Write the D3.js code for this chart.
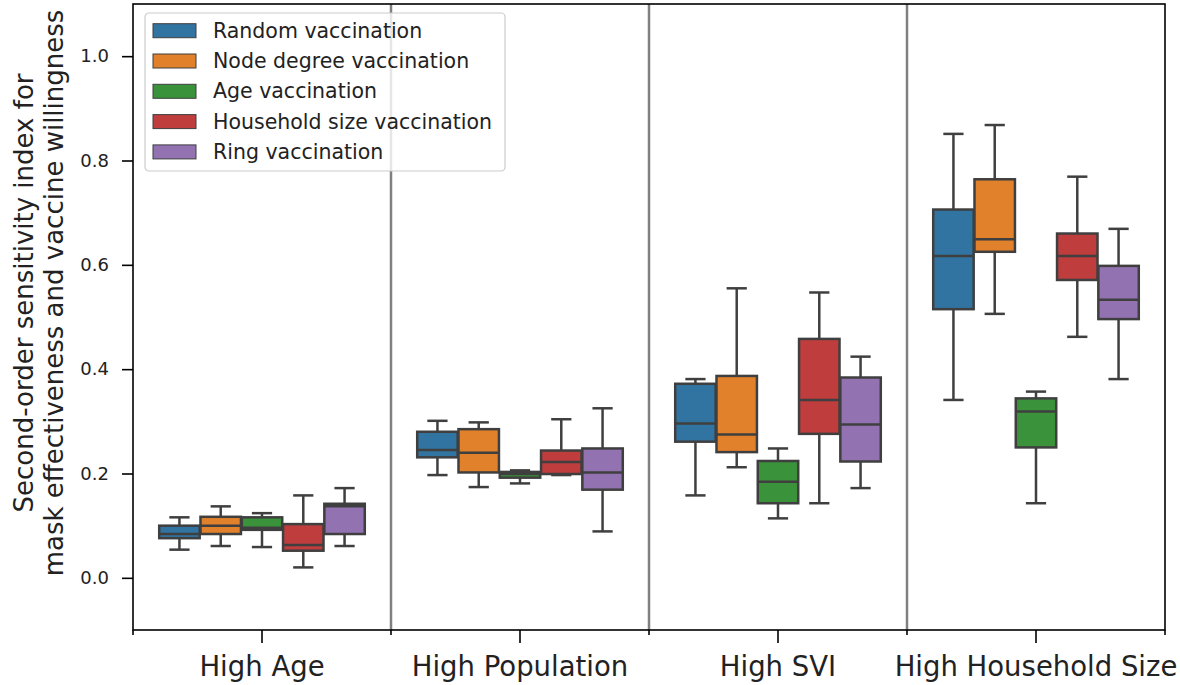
<!DOCTYPE html>
<html><head><meta charset="utf-8">
<script src="https://cdn.jsdelivr.net/npm/d3@7"></script>
<style>body{margin:0;background:#fff}svg{display:block}text{font-family:"DejaVu Sans",sans-serif}</style>
</head><body><svg id="c" width="1180" height="685"></svg>
<script>
const categories = ["High Age","High Population","High SVI","High Household Size"];
const strategies = ["Random vaccination","Node degree vaccination","Age vaccination","Household size vaccination","Ring vaccination"];
const colors = ["#3274a1","#e1812c","#3a923a","#c03d3e","#9372b2"];
// [whiskerLow, q1, median, q3, whiskerHigh] per category, per strategy
const randomStats = [[0.054,0.076,0.084,0.100,0.116],[0.197,0.231,0.245,0.280,0.301],[0.158,0.261,0.296,0.372,0.381],[0.341,0.515,0.617,0.706,0.851]];
const degreeStats = [[0.061,0.084,0.100,0.117,0.137],[0.174,0.202,0.240,0.285,0.298],[0.212,0.241,0.275,0.387,0.555],[0.506,0.625,0.649,0.764,0.868]];
const ageStats = [[0.059,0.092,0.096,0.116,0.124],[0.181,0.192,0.199,0.203,0.206],[0.114,0.143,0.184,0.224,0.248],[0.143,0.250,0.319,0.344,0.357]];
const householdStats = [[0.020,0.052,0.063,0.103,0.158],[0.197,0.199,0.222,0.244,0.304],[0.143,0.276,0.341,0.458,0.547],[0.462,0.571,0.617,0.660,0.769]];
const ringStats = [[0.061,0.084,0.137,0.142,0.172],[0.089,0.169,0.202,0.248,0.325],[0.172,0.223,0.294,0.384,0.424],[0.381,0.496,0.533,0.598,0.669]];
const allStats = [randomStats, degreeStats, ageStats, householdStats, ringStats];
const yTicks = [0.0,0.2,0.4,0.6,0.8,1.0];

const svg = d3.select("#c");
const L=133, R=1165, T=4, B=630;
const x = d3.scaleBand().domain(categories).range([L,R]).paddingInner(0).paddingOuter(0);
const y = d3.scaleLinear().domain([-0.1,1.1]).range([B,T]);
const xh = d3.scaleBand().domain(strategies).range([-0.4,0.4]);
const edge = "#3f3f3f";

// separators
const bounds = categories.slice(1).map(c=>x(c));
svg.append("g").selectAll("line").data(bounds).join("line")
  .attr("x1",d=>d).attr("x2",d=>d).attr("y1",T).attr("y2",B)
  .attr("stroke","#808080").attr("stroke-width",2.5);

// boxes
const bw = x.bandwidth();
const g = svg.append("g");
categories.forEach((cat,ci)=>{
  strategies.forEach((s,si)=>{
    const st = allStats[si][ci];
    const cx = x(cat)+bw/2 + (xh(s)+xh.bandwidth()/2)*bw;
    const w = xh.bandwidth()*bw*0.98;
    const gg = g.append("g").attr("stroke",edge).attr("stroke-width",2.5).attr("fill","none");
    gg.append("line").attr("x1",cx).attr("x2",cx).attr("y1",y(st[0])).attr("y2",y(st[1]));
    gg.append("line").attr("x1",cx).attr("x2",cx).attr("y1",y(st[3])).attr("y2",y(st[4]));
    gg.append("line").attr("x1",cx-w/4).attr("x2",cx+w/4).attr("y1",y(st[0])).attr("y2",y(st[0]));
    gg.append("line").attr("x1",cx-w/4).attr("x2",cx+w/4).attr("y1",y(st[4])).attr("y2",y(st[4]));
    gg.append("rect").attr("x",cx-w/2).attr("width",w).attr("y",y(st[3])).attr("height",y(st[1])-y(st[3]))
      .attr("fill",colors[si]);
    gg.append("line").attr("x1",cx-w/2).attr("x2",cx+w/2).attr("y1",y(st[2])).attr("y2",y(st[2]));
  });
});

// frame
svg.append("rect").attr("x",L).attr("y",T).attr("width",R-L).attr("height",B-T)
  .attr("fill","none").attr("stroke","#000").attr("stroke-width",1.6);

// y axis
const ya = svg.append("g").attr("transform",`translate(${L},0)`)
  .call(d3.axisLeft(y).tickValues(yTicks).tickFormat(d3.format(".1f")).tickSize(11).tickPadding(13));
ya.select(".domain").remove();
ya.selectAll("line").attr("stroke","#000").attr("stroke-width",1.6);
ya.selectAll("text").attr("font-size",18).attr("fill","#222").attr("font-family","DejaVu Sans");

// x axis: category ticks (long) + boundary ticks (short)
const xa = svg.append("g").attr("transform",`translate(0,${B})`)
  .call(d3.axisBottom(x).tickSize(13).tickPadding(13));
xa.select(".domain").remove();
xa.selectAll("line").attr("stroke","#000").attr("stroke-width",1.6);
xa.selectAll("text").attr("font-size",27.5).attr("fill","#222").attr("font-family","DejaVu Sans");
svg.append("g").selectAll("line").data([L,...bounds,R]).join("line")
  .attr("x1",d=>d).attr("x2",d=>d).attr("y1",B).attr("y2",B+5)
  .attr("stroke","#000").attr("stroke-width",1.6);

// y label
const yl = svg.append("text").attr("transform","translate(33,293) rotate(-90)")
  .attr("text-anchor","middle").attr("font-size",26).attr("fill","#222");
yl.append("tspan").attr("x",0).attr("dy",0).text("Second-order sensitivity index for");
yl.append("tspan").attr("x",0).attr("dy",30).text("mask effectiveness and vaccine willingness");

// legend
const lg = svg.append("g").attr("transform","translate(145,13)");
lg.append("rect").attr("width",360).attr("height",158).attr("rx",4)
  .attr("fill","#fff").attr("fill-opacity",0.8).attr("stroke","#cccccc").attr("stroke-width",1.2);
strategies.forEach((s,i)=>{
  const cy = 17.7 + i*30.3;
  lg.append("rect").attr("x",8).attr("y",cy-7).attr("width",43).attr("height",14)
    .attr("fill",colors[i]).attr("stroke",edge).attr("stroke-width",1);
  lg.append("text").attr("x",68).attr("y",cy).attr("dy","0.35em").attr("font-size",20.5).attr("fill","#222").text(s);
});
</script></body></html>
